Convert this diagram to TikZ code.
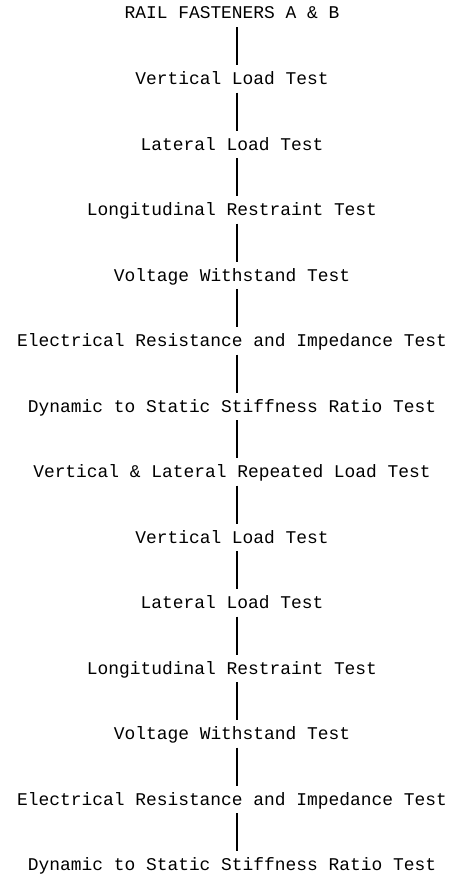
\documentclass[tikz,border=0pt]{standalone}
\usepackage{fontspec}
\setmonofont{Liberation Mono}
\usepackage{tikz}

\begin{document}
\begin{tikzpicture}[x=1pt,y=-1pt,
  stage/.style={font=\ttfamily\fontsize{17.9pt}{20pt}\selectfont,inner xsep=0pt,inner ysep=5pt,text height=14pt,text depth=3pt},
  link/.style={line width=1.1pt}]
\useasboundingbox (0,0) rectangle (450,875);
% test sequence, top to bottom
\foreach \txt [count=\n] in %
{RAIL FASTENERS A \& B,Vertical Load Test,Lateral Load Test,Longitudinal Restraint Test,%
Voltage Withstand Test,Electrical Resistance and Impedance Test,Dynamic to Static Stiffness Ratio Test,%
Vertical \& Lateral Repeated Load Test,Vertical Load Test,Lateral Load Test,Longitudinal Restraint Test,%
Voltage Withstand Test,Electrical Resistance and Impedance Test,Dynamic to Static Stiffness Ratio Test} {
   \node[stage] (t\n) at (232,13.5+65.5*\n-65.5) {\txt};
}
\foreach \n [remember=\n as \m (initially 1)] in {2,...,14} {
   \draw[link] ([xshift=5pt]t\m.south) -- ([xshift=5pt]t\n.north);
}
\end{tikzpicture}
\end{document}
